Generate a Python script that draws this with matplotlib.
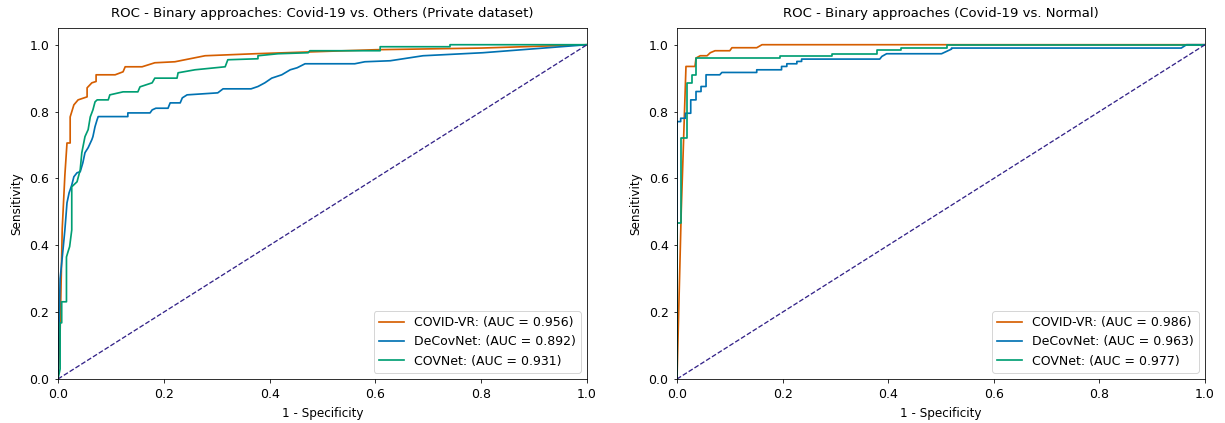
import numpy as np
import matplotlib
matplotlib.use("Agg")
import matplotlib.pyplot as plt

# ---- left panel: Covid-19 vs. Others (Private dataset)
l_vr_fpr = [0, 0.004, 0.008, 0.013, 0.017, 0.023, 0.023, 0.03, 0.038, 0.055, 0.055, 0.064, 0.072, 0.072,
            0.108, 0.123, 0.127, 0.159, 0.183, 0.221, 0.278, 0.372, 0.486, 0.6, 0.8, 1.0]
l_vr_tpr = [0, 0.14, 0.45, 0.61, 0.706, 0.706, 0.784, 0.82, 0.835, 0.844, 0.871, 0.886, 0.89, 0.91,
            0.91, 0.919, 0.934, 0.934, 0.946, 0.949, 0.967, 0.973, 0.979, 0.985, 0.99, 1.0]

l_de_fpr = [0, 0.004, 0.007, 0.010, 0.013, 0.015, 0.017, 0.021, 0.026, 0.03, 0.036, 0.042, 0.047, 0.051,
            0.057, 0.064, 0.066, 0.070, 0.074, 0.076, 0.132, 0.132, 0.174, 0.178, 0.185, 0.208, 0.212,
            0.231, 0.235, 0.244, 0.302, 0.312, 0.365, 0.378, 0.391, 0.404, 0.423, 0.439, 0.452, 0.467,
            0.561, 0.58, 0.628, 0.69, 0.803, 1.0]
l_de_tpr = [0, 0.3, 0.347, 0.396, 0.446, 0.486, 0.527, 0.557, 0.58, 0.605, 0.617, 0.62, 0.647, 0.677,
            0.692, 0.716, 0.725, 0.755, 0.776, 0.785, 0.785, 0.796, 0.796, 0.805, 0.81, 0.81, 0.826,
            0.826, 0.841, 0.85, 0.856, 0.868, 0.868, 0.875, 0.886, 0.9, 0.91, 0.925, 0.931, 0.943,
            0.943, 0.949, 0.952, 0.967, 0.976, 1.0]

l_cov_fpr = [0, 0.004, 0.004, 0.007, 0.007, 0.016, 0.016, 0.019, 0.022, 0.026, 0.026, 0.036, 0.042, 0.045,
             0.051, 0.057, 0.061, 0.066, 0.070, 0.074, 0.095, 0.098, 0.123, 0.151, 0.155, 0.178, 0.183,
             0.225, 0.227, 0.259, 0.316, 0.321, 0.378, 0.378, 0.416, 0.473, 0.476, 0.609, 0.609, 0.741,
             0.741, 1.0]
l_cov_tpr = [0, 0.03, 0.168, 0.168, 0.231, 0.231, 0.365, 0.381, 0.396, 0.446, 0.575, 0.59, 0.626, 0.677,
             0.725, 0.746, 0.784, 0.805, 0.829, 0.835, 0.835, 0.85, 0.859, 0.859, 0.874, 0.886, 0.9,
             0.9, 0.916, 0.925, 0.934, 0.955, 0.958, 0.967, 0.973, 0.976, 0.982, 0.982, 0.994, 0.994,
             1.0, 1.0]

# ---- right panel: Covid-19 vs. Normal
r_vr_fpr = [0, 0.008, 0.017, 0.034, 0.036, 0.044, 0.057, 0.063, 0.072, 0.1, 0.104, 0.151, 0.161, 1.0]
r_vr_tpr = [0, 0.5, 0.935, 0.935, 0.96, 0.967, 0.967, 0.976, 0.982, 0.982, 0.991, 0.991, 1.0, 1.0]

r_de_fpr = [0, 0, 0.007, 0.007, 0.016, 0.016, 0.026, 0.026, 0.036, 0.036, 0.0455, 0.0455, 0.055, 0.055,
            0.081, 0.085, 0.151, 0.151, 0.198, 0.198, 0.208, 0.208, 0.227, 0.227, 0.236, 0.236, 0.384,
            0.388, 0.397, 0.501, 0.52, 0.52, 0.955, 0.965, 1.0]
r_de_tpr = [0, 0.77, 0.77, 0.78, 0.78, 0.795, 0.795, 0.835, 0.835, 0.86, 0.86, 0.875, 0.875, 0.91,
            0.91, 0.917, 0.917, 0.925, 0.925, 0.935, 0.935, 0.943, 0.943, 0.95, 0.95, 0.957, 0.957,
            0.965, 0.973, 0.973, 0.987, 0.99, 0.99, 1.0, 1.0]

r_cov_fpr = [0, 0, 0.008, 0.008, 0.018, 0.018, 0.028, 0.028, 0.036, 0.036, 0.195, 0.195, 0.293, 0.293,
             0.378, 0.378, 0.425, 0.425, 0.511, 0.511, 1.0]
r_cov_tpr = [0, 0.468, 0.468, 0.72, 0.72, 0.886, 0.886, 0.91, 0.91, 0.96, 0.96, 0.967, 0.967, 0.973,
             0.973, 0.983, 0.983, 0.99, 0.99, 1.0, 1.0]

model_names = ['COVID-VR', 'DeCovNet', 'COVNet']
auc_left = [0.956, 0.892, 0.931]
auc_right = [0.986, 0.963, 0.977]
colors = ['#d55e00', '#0072b2', '#009e73']


def plotRoc(ax, curves, aucs, title):
	for (fpr, tpr), name, auc, c in zip(curves, model_names, aucs, colors):
		ax.plot(fpr, tpr, color=c, lw=1.7, label='%s: (AUC = %.3f)' % (name, auc))
	ax.plot([0, 1], [0, 1], color='#332288', lw=1.3, linestyle='--')
	ax.set_xlim(0, 1)
	ax.set_ylim(0, 1.05)
	ax.tick_params(labelsize=12.5, pad=5)
	ax.set_xlabel('1 - Specificity', fontsize=12, labelpad=6)
	ax.set_ylabel('Sensitivity', fontsize=12, labelpad=6)
	ax.set_title(title, fontsize=13.2, pad=11)
	ax.legend(loc='lower right', fontsize=12.5)


fig = plt.figure(figsize=(1225 / 72, 423 / 72), dpi=72)
ax1 = fig.add_axes([58 / 1225, 1 - 379 / 423, 529 / 1225, 351 / 423])
ax2 = fig.add_axes([677 / 1225, 1 - 379 / 423, 528 / 1225, 351 / 423])

plotRoc(ax1, [(l_vr_fpr, l_vr_tpr), (l_de_fpr, l_de_tpr), (l_cov_fpr, l_cov_tpr)], auc_left,
        'ROC - Binary approaches: Covid-19 vs. Others (Private dataset)')
plotRoc(ax2, [(r_vr_fpr, r_vr_tpr), (r_de_fpr, r_de_tpr), (r_cov_fpr, r_cov_tpr)], auc_right,
        'ROC - Binary approaches (Covid-19 vs. Normal)')

fig.savefig('out.png', dpi=72)
